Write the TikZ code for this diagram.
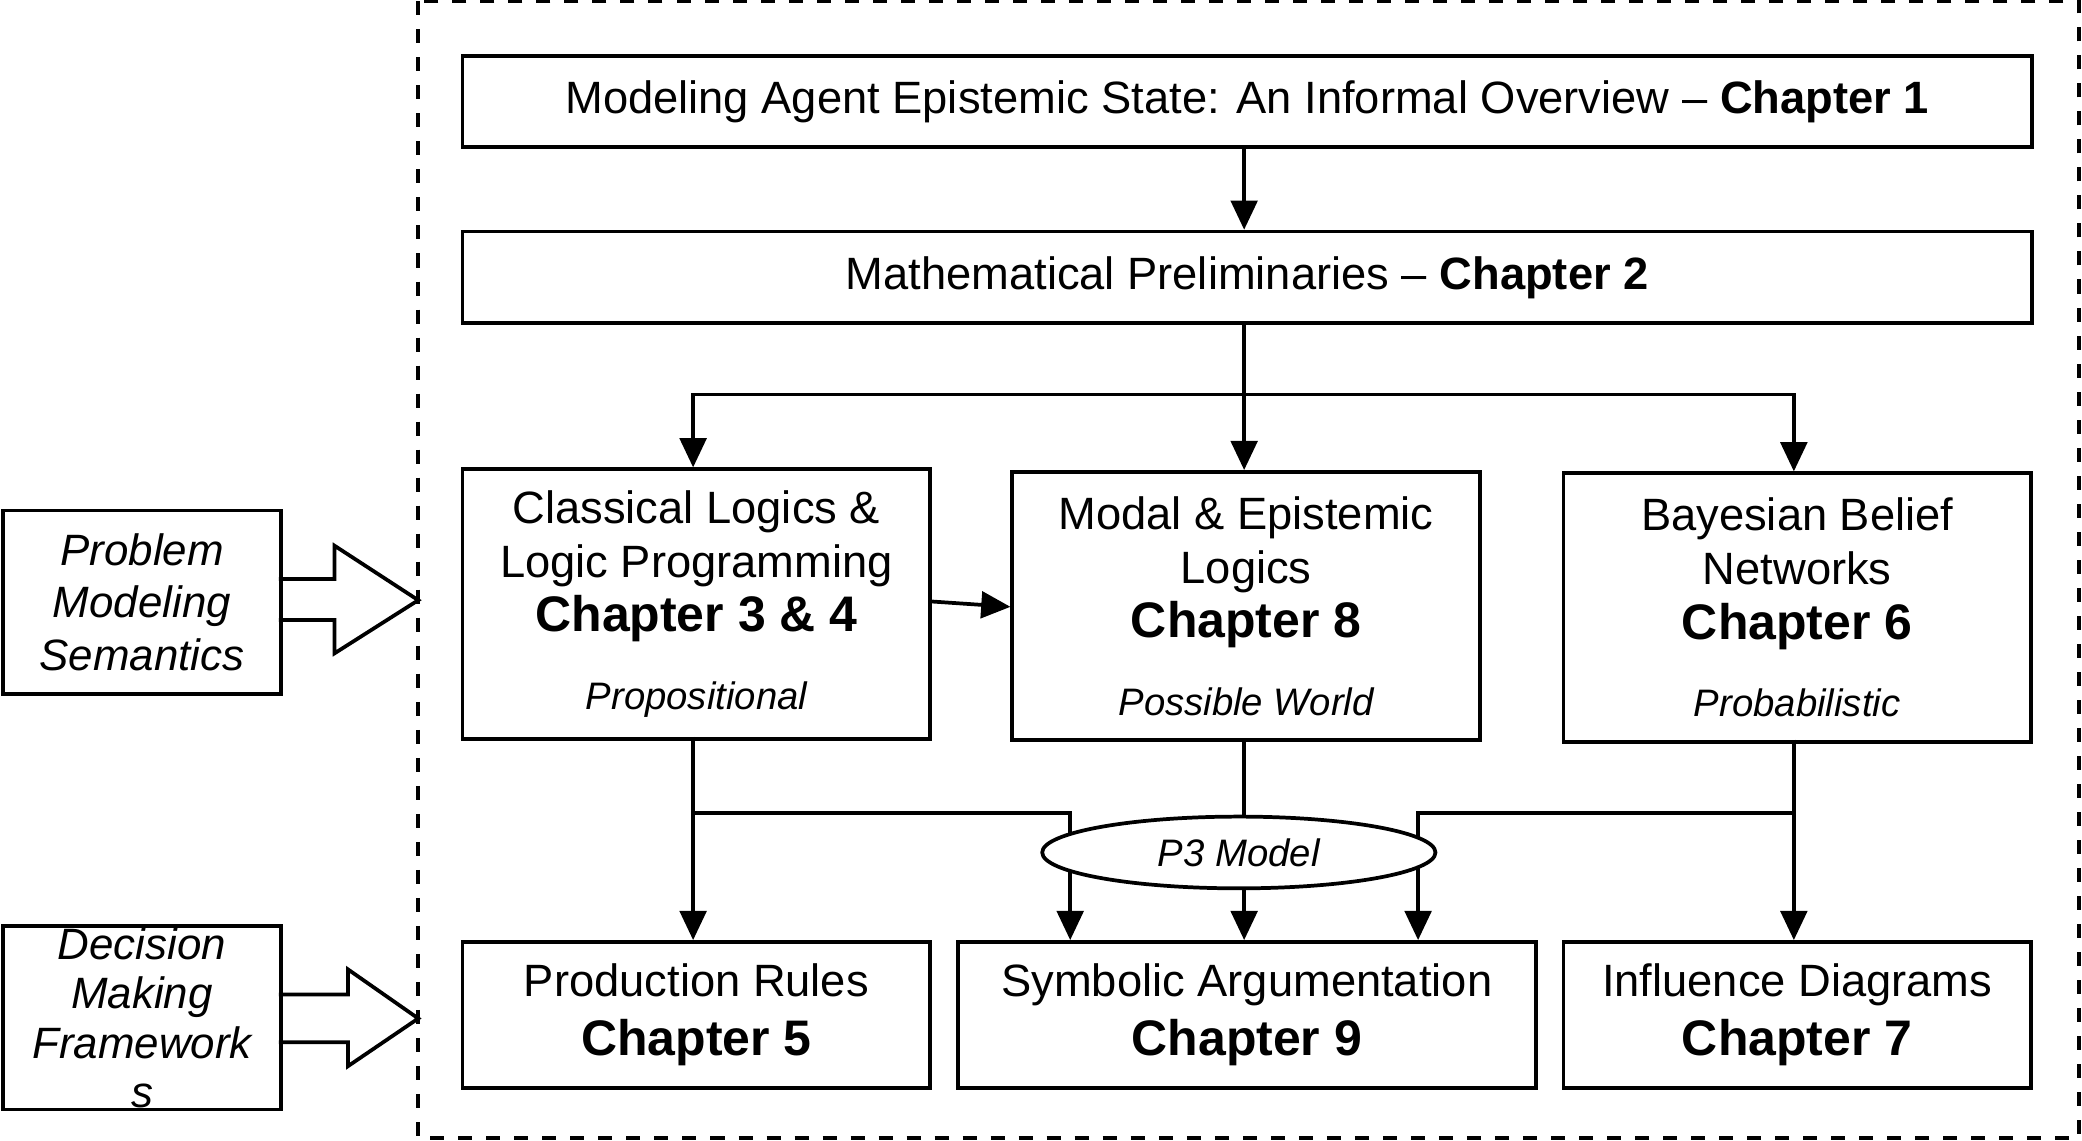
\documentclass[tikz,border=0pt]{standalone}
\usepackage{fontspec}
\setmainfont{Liberation Sans}
\usetikzlibrary{arrows.meta,shapes.geometric}
\begin{document}
\begin{tikzpicture}[x=0.01cm,y=-0.01cm,line width=0.8pt,
  box/.style={draw,rectangle,anchor=north west,align=center,font=\fontsize{9.7}{11.6}\selectfont,inner sep=0pt},
  arr/.style={-{Triangle[length=0.22cm,width=0.2cm]}},
  it/.style={font=\fontsize{8.2}{10}\selectfont\itshape}]
\useasboundingbox (0,0) rectangle (1568,859);
\draw[dashed] (315,1) rectangle (1566,857);
\node[box,minimum width=11.81cm,minimum height=0.68cm] (c1) at (347,41) {Modeling Agent Epistemic State: An Informal Overview -- \textbf{Chapter 1}};
\node[box,minimum width=11.81cm,minimum height=0.69cm] (c2) at (347,173) {Mathematical Preliminaries -- \textbf{Chapter 2}};
\node[box,minimum width=3.52cm,minimum height=2.03cm] (cl) at (347,352) {Classical Logics \&\\Logic Programming\\\textbf{\fontsize{10.7}{13}\selectfont Chapter 3 \& 4}\\[5pt]{\fontsize{8.2}{10}\selectfont\itshape Propositional}};
\node[box,minimum width=3.52cm,minimum height=2.02cm] (mo) at (761,354) {Modal \& Epistemic\\Logics\\\textbf{\fontsize{10.7}{13}\selectfont Chapter 8}\\[5pt]{\fontsize{8.2}{10}\selectfont\itshape Possible World}};
\node[box,minimum width=3.52cm,minimum height=2.02cm] (ba) at (1176,355) {Bayesian Belief\\Networks\\\textbf{\fontsize{10.7}{13}\selectfont Chapter 6}\\[5pt]{\fontsize{8.2}{10}\selectfont\itshape Probabilistic}};
\node[box,minimum width=3.52cm,minimum height=1.1cm] (pr) at (347,708) {Production Rules\\[1pt]\textbf{\fontsize{10.7}{13}\selectfont Chapter 5}};
\node[box,minimum width=4.35cm,minimum height=1.1cm] (sy) at (720,708) {Symbolic Argumentation\\[1pt]\textbf{\fontsize{10.7}{13}\selectfont Chapter 9}};
\node[box,minimum width=3.52cm,minimum height=1.1cm] (in) at (1176,708) {Influence Diagrams\\[1pt]\textbf{\fontsize{10.7}{13}\selectfont Chapter 7}};
\coordinate (j) at (937,297);
\draw[arr] (j |- c1.south) -- (j |- c2.north);
\draw (j |- c2.south) -- (j);
\draw[arr] (j) -| (522,352);
\draw[arr] (j) -- (937,354);
\draw[arr] (j) -| (1351,355);
\draw[arr] (cl.east |- 0,453) -- (mo.west |- 0,457);
\draw[arr] (522,555) -- (522,708);
\coordinate (l) at (522,612);
\coordinate (r) at (1351,612);
\draw[arr] (l) -| (806,708);
\draw[arr] (937,556) -- (937,708);
\draw[arr] (1351,557) -- (1351,708);
\draw[arr] (r) -| (1068,708);
\node[draw,ellipse,fill=white,minimum width=2.96cm,minimum height=0.54cm,inner sep=0pt,it] (p3) at (933,642) {P3 Model};
\node[box,minimum width=2.09cm,minimum height=1.38cm,font=\fontsize{9.4}{11.3}\selectfont\itshape] (pm) at (1,383) {Problem\\Modeling\\Semantics};
\node[box,minimum width=2.09cm,minimum height=1.38cm,font=\fontsize{9.4}{10.6}\selectfont\itshape] (dm) at (1,696) {Decision\\Making\\Framework\\s};
\draw (210,436) -- (252,436) -- (252,411) -- (315,452) -- (252,492) -- (252,467) -- (210,467);
\draw (210,749) -- (262,749) -- (262,730) -- (315,767) -- (262,803) -- (262,785) -- (210,785);
\end{tikzpicture}
\end{document}
